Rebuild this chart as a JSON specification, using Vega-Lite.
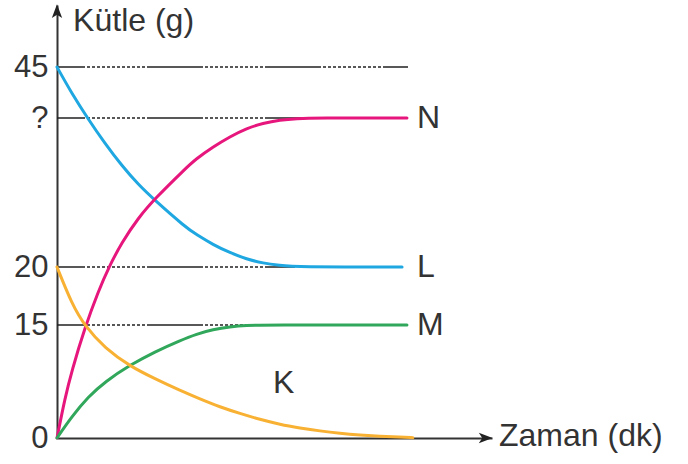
{
  "$schema": "https://vega.github.io/schema/vega-lite/v6.json",
  "width": 435,
  "height": 433,
  "autosize": {"type": "none"},
  "padding": {"left": 57, "top": 5, "right": 196, "bottom": 26},
  "background": "white",
  "config": {"view": {"stroke": null}, "font": "Liberation Sans"},
  "datasets": {
    "curves": [
      {"series": "L", "t": 0, "v": 45},
      {"series": "L", "t": 0.42, "v": 42.42},
      {"series": "L", "t": 0.894, "v": 39.83},
      {"series": "L", "t": 1.371, "v": 36.58},
      {"series": "L", "t": 1.849, "v": 33.62},
      {"series": "L", "t": 2.323, "v": 31.06},
      {"series": "L", "t": 2.8, "v": 28.93},
      {"series": "L", "t": 3.657, "v": 25.4},
      {"series": "L", "t": 3.991, "v": 24.32},
      {"series": "L", "t": 4.457, "v": 23.01},
      {"series": "L", "t": 4.943, "v": 21.91},
      {"series": "L", "t": 5.42, "v": 21.06},
      {"series": "L", "t": 5.886, "v": 20.51},
      {"series": "L", "t": 6.371, "v": 20.21},
      {"series": "L", "t": 6.8, "v": 20},
      {"series": "L", "t": 9.86, "v": 20},
      {"series": "N", "t": 0, "v": 0},
      {"series": "N", "t": 0.229, "v": 5.31},
      {"series": "N", "t": 0.42, "v": 8.87},
      {"series": "N", "t": 0.8, "v": 14.7},
      {"series": "N", "t": 1.18, "v": 17.9},
      {"series": "N", "t": 1.486, "v": 20.03},
      {"series": "N", "t": 1.849, "v": 23.26},
      {"series": "N", "t": 2.323, "v": 26.6},
      {"series": "N", "t": 2.8, "v": 29.19},
      {"series": "N", "t": 3.657, "v": 33.15},
      {"series": "N", "t": 3.963, "v": 34.47},
      {"series": "N", "t": 4.457, "v": 36.11},
      {"series": "N", "t": 4.943, "v": 37.49},
      {"series": "N", "t": 5.42, "v": 38.62},
      {"series": "N", "t": 5.886, "v": 39.29},
      {"series": "N", "t": 6.371, "v": 39.73},
      {"series": "N", "t": 6.849, "v": 39.93},
      {"series": "N", "t": 7.37, "v": 40},
      {"series": "N", "t": 10, "v": 40},
      {"series": "M", "t": 0, "v": 0},
      {"series": "M", "t": 0.42, "v": 2.83},
      {"series": "M", "t": 0.894, "v": 5.48},
      {"series": "M", "t": 1.371, "v": 7.47},
      {"series": "M", "t": 2.086, "v": 9.69},
      {"series": "M", "t": 2.8, "v": 11.46},
      {"series": "M", "t": 3.514, "v": 12.94},
      {"series": "M", "t": 3.991, "v": 13.81},
      {"series": "M", "t": 4.457, "v": 14.4},
      {"series": "M", "t": 4.943, "v": 14.77},
      {"series": "M", "t": 5.42, "v": 14.96},
      {"series": "M", "t": 5.886, "v": 15},
      {"series": "M", "t": 10, "v": 15},
      {"series": "K", "t": 0, "v": 20},
      {"series": "K", "t": 0.42, "v": 16.84},
      {"series": "K", "t": 0.8, "v": 14.83},
      {"series": "K", "t": 1.371, "v": 11.91},
      {"series": "K", "t": 2.086, "v": 9.52},
      {"series": "K", "t": 2.8, "v": 7.86},
      {"series": "K", "t": 3.514, "v": 6.31},
      {"series": "K", "t": 4.086, "v": 5.18},
      {"series": "K", "t": 4.657, "v": 4.12},
      {"series": "K", "t": 5.229, "v": 3.25},
      {"series": "K", "t": 5.8, "v": 2.46},
      {"series": "K", "t": 6.371, "v": 1.79},
      {"series": "K", "t": 6.943, "v": 1.33},
      {"series": "K", "t": 7.514, "v": 0.93},
      {"series": "K", "t": 8.086, "v": 0.62},
      {"series": "K", "t": 8.657, "v": 0.4},
      {"series": "K", "t": 9.229, "v": 0.24},
      {"series": "K", "t": 9.8, "v": 0.11},
      {"series": "K", "t": 10.17, "v": 0.04}
    ],
    "refs": [
      {"t": 0, "t2": 10.03, "v": 45},
      {"t": 0, "t2": 7.4, "v": 40},
      {"t": 0, "t2": 6.8, "v": 20},
      {"t": 0, "t2": 5.9, "v": 15}
    ],
    "letters": [
      {"label": "N", "t": 10.29, "v": 40},
      {"label": "L", "t": 10.29, "v": 20},
      {"label": "M", "t": 10.29, "v": 15},
      {"label": "K", "t": 6.17, "v": 7.3}
    ],
    "titles": [
      {"label": "Kütle (g)", "t": 0.46, "v": 50.14},
      {"label": "Zaman (dk)", "t": 12.63, "v": 0.25}
    ],
    "arrows": [
      {"dir": "up", "t": 0, "v": 51.3},
      {"dir": "right", "t": 12.25, "v": 0}
    ]
  },
  "encoding": {
    "x": {
      "field": "t",
      "type": "quantitative",
      "scale": {"domain": [0, 12.43], "nice": false, "zero": false},
      "axis": {"domainColor": "#333333", "domainWidth": 2, "ticks": false, "labels": false, "title": null, "grid": false}
    },
    "y": {
      "field": "v",
      "type": "quantitative",
      "scale": {"type": "linear", "domain": [0, 15, 20, 40, 45, 52], "range": [433, 320, 262, 113, 62, 0], "nice": false, "zero": false},
      "axis": {
        "values": [0, 15, 20, 40, 45],
        "labelExpr": "datum.value == 40 ? '?' : datum.label",
        "ticks": false,
        "labelPadding": 9,
        "labelFontSize": 31,
        "labelColor": "#333333",
        "labelFont": "Liberation Sans",
        "labelOverlap": false,
        "labelFlush": false,
        "domainColor": "#333333",
        "domainWidth": 2,
        "grid": false,
        "title": null
      }
    }
  },
  "layer": [
    {
      "data": {"name": "refs"},
      "mark": {"type": "rule", "color": "#222222", "strokeWidth": 1.4, "strokeDash": [56, 2, 3, 2, 3, 2, 3, 2, 3, 2, 3, 2, 3, 2, 3, 2, 3, 2, 3, 2, 3, 2, 3, 2, 3, 2], "strokeDashOffset": 28},
      "encoding": {"x2": {"field": "t2"}}
    },
    {
      "data": {"name": "curves"},
      "mark": {"type": "line", "interpolate": "basis", "strokeWidth": 3, "strokeCap": "round"},
      "encoding": {
        "color": {
          "field": "series",
          "type": "nominal",
          "scale": {"domain": ["K", "L", "M", "N"], "range": ["#f8b133", "#1ea7e1", "#30a75a", "#e6167c"]},
          "legend": null
        }
      }
    },
    {
      "data": {"name": "letters"},
      "mark": {"type": "text", "fontSize": 32, "color": "#333333", "align": "left", "baseline": "middle", "font": "Liberation Sans"},
      "encoding": {"text": {"field": "label"}}
    },
    {
      "data": {"name": "titles"},
      "mark": {"type": "text", "fontSize": 32, "color": "#333333", "align": "left", "baseline": "middle", "font": "Liberation Sans"},
      "encoding": {"text": {"field": "label"}}
    },
    {
      "data": {"name": "arrows"},
      "mark": {"type": "point", "filled": true, "color": "#222222", "size": 190, "opacity": 1},
      "encoding": {
        "shape": {
          "field": "dir",
          "type": "nominal",
          "scale": {"domain": ["up", "right"], "range": ["M0,-1L0.75,1L0,0.5L-0.75,1Z", "M1,0L-1,0.75L-0.5,0L-1,-0.75Z"]},
          "legend": null
        }
      }
    }
  ]
}
